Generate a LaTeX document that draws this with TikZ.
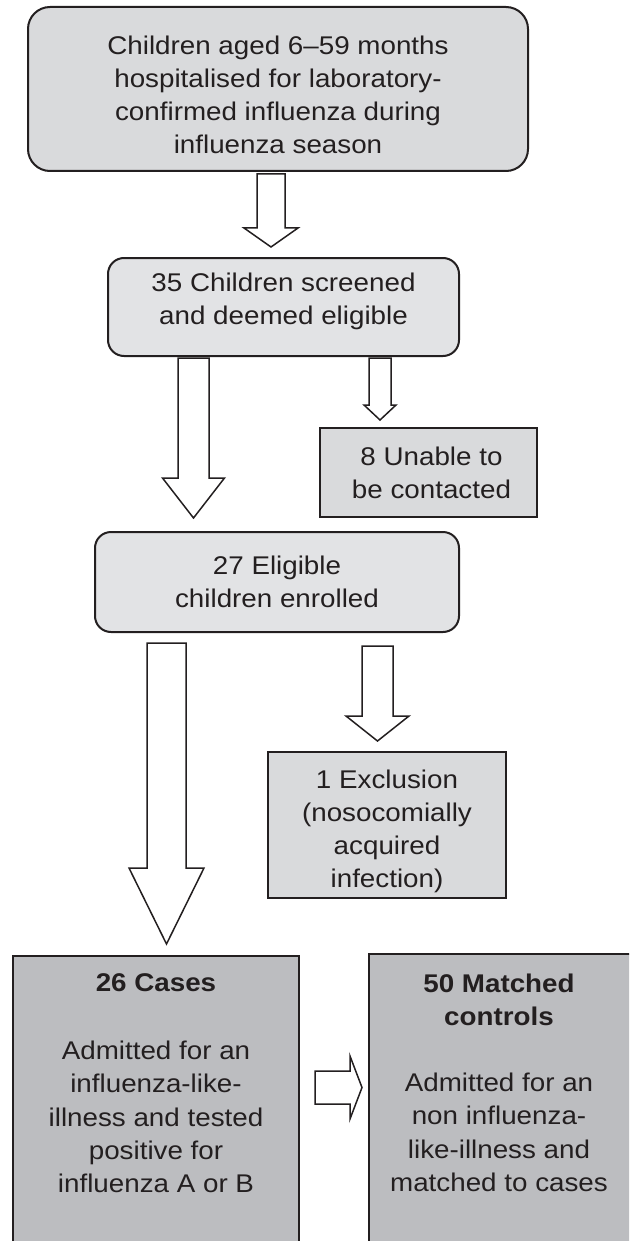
\documentclass[tikz,border=0pt]{standalone}
\usepackage{fontspec}
\setmainfont{Liberation Sans}[FakeStretch=1.085]
\usetikzlibrary{calc,positioning}

\definecolor{boxline}{RGB}{35,31,32}
\definecolor{greyA}{RGB}{217,218,220}
\definecolor{greyB}{RGB}{226,227,229}
\definecolor{greyC}{RGB}{188,189,192}

\tikzset{box/.style={draw=boxline, line width=2pt, inner sep=0pt}}
\tikzset{roundbox/.style={box, rounded corners=16pt, fill=greyB}}
\tikzset{txt/.style={align=center, inner sep=0pt, text=boxline, font=\fontsize{25.6pt}{33.3pt}\selectfont}}
\tikzset{fatarrow/.style={draw=boxline, line width=1.5pt, fill=white, line join=miter}}

% block arrows: start, tip, half shaft, half head, head length
\newcommand{\fatdown}[5]{%
  \draw[fatarrow] let \p1=(#1), \p2=(#2) in
    (\x1-#3pt,\y1) -- (\x1+#3pt,\y1) -- (\x1+#3pt,\y2+#5pt) -- (\x1+#4pt,\y2+#5pt)
    -- (\x2,\y2) -- (\x1-#4pt,\y2+#5pt) -- (\x1-#3pt,\y2+#5pt) -- cycle;}
\newcommand{\fatright}[5]{%
  \draw[fatarrow] let \p1=(#1), \p2=(#2) in
    (\x1,\y1+#3pt) -- (\x2-#5pt,\y1+#3pt) -- (\x2-#5pt,\y1+#4pt) -- (\x2,\y1)
    -- (\x2-#5pt,\y1-#4pt) -- (\x2-#5pt,\y1-#3pt) -- (\x1,\y1-#3pt) -- cycle;}

\begin{document}
\begin{tikzpicture}[x=1pt,y=-1pt]
\useasboundingbox (0,0) rectangle (629,1241);
\clip (0,0) rectangle (629,1241);

% boxes
\node[roundbox, fill=greyA, rounded corners=22pt, minimum width=500pt, minimum height=164pt] (top) at (278,89) {};
\node[roundbox, minimum width=351pt, minimum height=98pt] (screen) at (283.5,307) {};
\node[box, fill=greyA, minimum width=217pt, minimum height=89pt] (unable) at (428.5,472.5) {};
\node[roundbox, minimum width=364pt, minimum height=100pt] (enrolled) at (277,582) {};
\node[box, fill=greyA, minimum width=238pt, minimum height=146pt] (excl) at (387,825) {};
\node[box, fill=greyC, minimum width=286pt, minimum height=344pt] (cases) at (156,1128) {};
\node[box, fill=greyC, minimum width=271pt, minimum height=346pt] (controls) at (504.5,1127) {};

% arrows
\coordinate (s1) at ($(top.south)+(-7,2)$);
\coordinate (t1) at ($(screen.north)+(-12.5,-10)$);
\fatdown{s1}{t1}{14}{27}{19}
\coordinate (s2) at ($(screen.south)+(-90,1)$);
\coordinate (t2) at ($(enrolled.north)+(-83.5,-13)$);
\fatdown{s2}{t2}{15.5}{31}{40}
\coordinate (s3) at ($(screen.south)+(96.5,1)$);
\coordinate (t3) at ($(unable.north)+(-48.5,-7)$);
\fatdown{s3}{t3}{11}{16}{15}
\coordinate (s4) at ($(enrolled.south)+(-110.5,10)$);
\coordinate (t4) at ($(cases.north)+(10.5,-11)$);
\fatdown{s4}{t4}{19.5}{37.5}{76}
\coordinate (s5) at ($(enrolled.south)+(100.5,13)$);
\coordinate (t5) at ($(excl.north)+(-9.5,-10)$);
\fatdown{s5}{t5}{15.5}{31.5}{25}
\coordinate (s6) at ($(cases.east)+(15,-40.5)$);
\coordinate (t6) at ($(controls.west)+(-6,-39.5)$);
\fatright{s6}{t6}{16.5}{31.5}{12}

% texts
\node[txt, below=29.3pt of top.north] (toptxt) {Children aged 6–59 months\\hospitalised for laboratory-\\confirmed influenza during\\influenza season};
\node[txt, below=15.3pt of screen.north] (screentxt) {35 Children screened\\and deemed eligible};
\node[txt, below=19.3pt of unable.north, xshift=3pt] (unabletxt) {8 Unable to\\be contacted};
\node[txt, below=24.3pt of enrolled.north] (enrolledtxt) {27 Eligible\\children enrolled};
\node[txt, below=18.3pt of excl.north] (excltxt) {1 Exclusion\\(nosocomially\\acquired\\infection)};
\node[txt, below=18.3pt of cases.north] (casestxt) {\textbf{26 Cases}\\[35pt]Admitted for an\\influenza-like-\\illness and tested\\positive for\\influenza A or B};
\node[txt, below=20.3pt of controls.north, xshift=-5.5pt] (controlstxt) {\textbf{50 Matched}\\\textbf{controls}\\[33pt]Admitted for an\\non influenza-\\like-illness and\\matched to cases};
\end{tikzpicture}
\end{document}
